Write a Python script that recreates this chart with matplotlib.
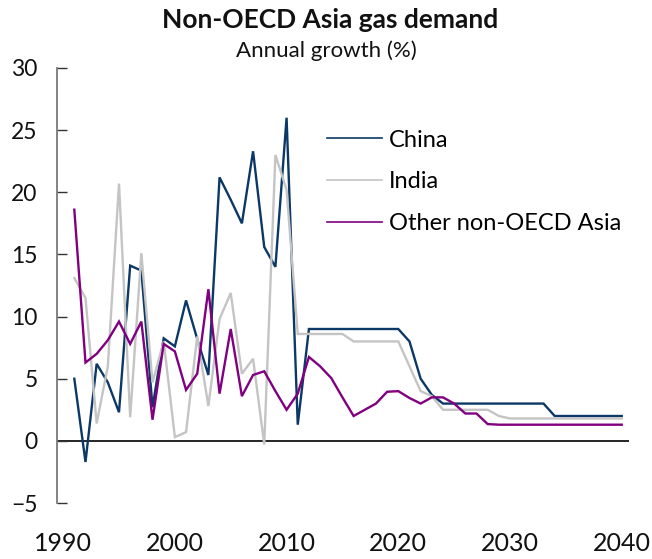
import matplotlib
matplotlib.use("Agg")
import matplotlib.pyplot as plt

plt.rcParams['font.family'] = ['Lato', 'DejaVu Sans']

years = list(range(1991, 2041))

china = [5.0, -1.7, 6.2, 4.7, 2.3, 14.1, 13.7, 2.7, 8.25, 7.6,
         11.3, 8.2, 5.3, 21.2, 19.4, 17.5, 23.3, 15.6, 14.0, 26.0,
         1.3, 9.0, 9.0, 9.0, 9.0, 9.0, 9.0, 9.0, 9.0, 9.0,
         8.0, 5.0, 3.7, 3.0, 3.0, 3.0, 3.0, 3.0, 3.0, 3.0,
         3.0, 3.0, 3.0, 2.0, 2.0, 2.0, 2.0, 2.0, 2.0, 2.0]

india = [13.1, 11.5, 1.4, 6.0, 20.7, 1.9, 15.1, 4.7, 8.0, 0.3,
         0.7, 8.4, 2.8, 9.8, 11.9, 5.4, 6.6, -0.3, 23.0, 20.2,
         8.6, 8.6, 8.6, 8.6, 8.6, 8.0, 8.0, 8.0, 8.0, 8.0,
         6.0, 4.0, 3.6, 2.5, 2.5, 2.5, 2.5, 2.5, 2.0, 1.8,
         1.8, 1.8, 1.8, 1.8, 1.8, 1.8, 1.8, 1.8, 1.8, 1.8]

other = [18.6, 6.3, 7.0, 8.1, 9.6, 7.8, 9.6, 1.7, 7.8, 7.2,
         4.1, 5.4, 12.2, 3.8, 9.0, 3.6, 5.3, 5.6, 4.0, 2.5,
         3.8, 6.75, 6.0, 5.05, 3.5, 2.0, 2.5, 3.0, 3.95, 4.0,
         3.45, 3.0, 3.5, 3.5, 3.0, 2.2, 2.2, 1.35, 1.3, 1.3,
         1.3, 1.3, 1.3, 1.3, 1.3, 1.3, 1.3, 1.3, 1.3, 1.3]

series = [("China", china, "#0b3866"),
          ("India", india, "#c4c4c4"),
          ("Other non-OECD Asia", other, "#800080")]

yticks = [-5, 0, 5, 10, 15, 20, 25, 30]
xticks = [1990, 2000, 2010, 2020, 2030, 2040]

fig = plt.figure(figsize=(6.52, 5.59), dpi=100)
ax = fig.add_axes([57 / 652, 1 - 503 / 559, (629 - 57) / 652, (503 - 68) / 559])

for name, vals, col in series:
    ax.plot(years, vals, color=col, lw=1.7, label=name, solid_joinstyle='miter')

ax.axhline(0, color='black', lw=1.2, zorder=1)

ax.set_xlim(1989.45, 2040.65)
ax.set_ylim(-5, 30)
ax.set_yticks(yticks)
ax.set_xticks(xticks)

for s in ['top', 'right', 'bottom']:
    ax.spines[s].set_visible(False)
ax.spines['left'].set_color('#7a7a7a')
ax.spines['left'].set_linewidth(1.3)

ax.tick_params(axis='y', direction='in', length=7, width=1.0, color='#333333',
               labelsize=16.5, pad=14, labelcolor='#111111')
ax.tick_params(axis='x', length=0, labelsize=18, pad=21, labelcolor='#111111')

leg = ax.legend(loc='upper left', bbox_to_anchor=(0.455, 0.880), frameon=False,
                fontsize=17, handlelength=2.33, handletextpad=0.3, labelspacing=0.88,
                borderaxespad=0)
for h in leg.get_lines():
    h.set_linewidth(1.2)

fig.text(0.506, 1 - 28 / 559, "Non-OECD Asia gas demand", ha='center', va='baseline',
         fontsize=19, fontweight='bold', color='#111111')
fig.text(0.50, 1 - 57 / 559, "Annual growth (%)", ha='center', va='baseline',
         fontsize=16, color='#111111')

fig.savefig("out.png", dpi=100)
